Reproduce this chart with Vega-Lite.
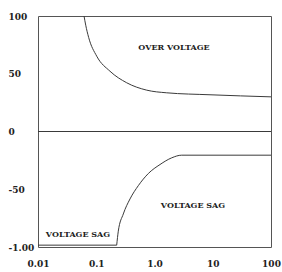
{
  "$schema": "https://vega.github.io/schema/vega-lite/v6.json",
  "width": 233,
  "height": 231,
  "autosize": {"type": "none"},
  "padding": {"left": 38, "top": 16, "right": 11, "bottom": 25},
  "background": "white",
  "config": {
    "view": {"stroke": "#555555", "strokeWidth": 1},
    "axis": {"labelFont": "DejaVu Serif", "labelFontWeight": "bold", "labelFontSize": 9, "labelColor": "#222222", "domain": false, "ticks": false, "grid": false, "title": null}
  },
  "datasets": {
    "curves": [
      {"series": "over", "x": 0.0617, "y": 100},
      {"series": "over", "x": 0.0660, "y": 92},
      {"series": "over", "x": 0.0740, "y": 81.5},
      {"series": "over", "x": 0.1019, "y": 65.2},
      {"series": "over", "x": 0.172, "y": 52.2},
      {"series": "over", "x": 0.333, "y": 42.2},
      {"series": "over", "x": 0.735, "y": 35.8},
      {"series": "over", "x": 1.62, "y": 33.5},
      {"series": "over", "x": 8.97, "y": 31.8},
      {"series": "over", "x": 100, "y": 30.0},
      {"series": "zero", "x": 0.01, "y": 0},
      {"series": "zero", "x": 100, "y": 0},
      {"series": "sagflat", "x": 0.01, "y": -98.4},
      {"series": "sagflat", "x": 0.2244, "y": -98.4},
      {"series": "sagcurve", "x": 0.2244, "y": -98.4},
      {"series": "sagcurve", "x": 0.2390, "y": -86.3},
      {"series": "sagcurve", "x": 0.2913, "y": -71.4},
      {"series": "sagcurve", "x": 0.3797, "y": -58.4},
      {"series": "sagcurve", "x": 0.5271, "y": -46.9},
      {"series": "sagcurve", "x": 0.7826, "y": -36.4},
      {"series": "sagcurve", "x": 1.243, "y": -28.6},
      {"series": "sagcurve", "x": 1.974, "y": -22.8},
      {"series": "sagcurve", "x": 2.931, "y": -20.5},
      {"series": "sagcurve", "x": 100, "y": -20.5}
    ],
    "labels": [
      {"x": 2.16, "y": 71.9, "label": "OVER VOLTAGE"},
      {"x": 4.58, "y": -64.9, "label": "VOLTAGE SAG"},
      {"x": 0.0486, "y": -90, "label": "VOLTAGE SAG"}
    ]
  },
  "layer": [
    {
      "data": {"name": "curves"},
      "mark": {"type": "line", "interpolate": "monotone", "color": "#3a3a3a", "strokeWidth": 1},
      "encoding": {
        "x": {"field": "x", "type": "quantitative", "scale": {"type": "log", "domain": [0.01, 100]},
          "axis": {"values": [0.01, 0.1, 1, 10, 100], "labelExpr": "datum.value == 1 ? '1.0' : datum.label", "labelPadding": 12, "labelFlush": false}},
        "y": {"field": "y", "type": "quantitative", "scale": {"domain": [-100, 100], "nice": false},
          "axis": {"values": [100, 50, 0, -50, -100], "labelExpr": "datum.value == -100 ? '-1.00' : datum.value == -50 ? '-50' : datum.label", "labelAlign": "left", "labelPadding": 30}},
        "detail": {"field": "series"}
      }
    },
    {
      "data": {"name": "labels"},
      "mark": {"type": "text", "font": "DejaVu Serif", "fontWeight": "bold", "fontSize": 8, "color": "#222222", "align": "center", "baseline": "middle"},
      "encoding": {
        "x": {"field": "x", "type": "quantitative"},
        "y": {"field": "y", "type": "quantitative"},
        "text": {"field": "label"}
      }
    }
  ]
}
